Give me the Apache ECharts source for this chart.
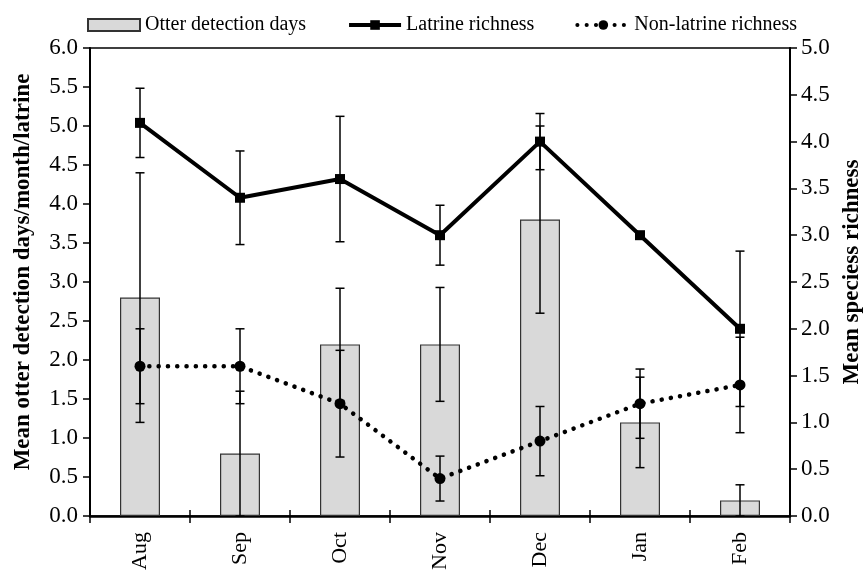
<!DOCTYPE html>
<html>
<head>
<meta charset="utf-8">
<script src="https://cdn.jsdelivr.net/npm/echarts@6/dist/echarts.min.js"></script>
<style>
html,body{margin:0;padding:0;background:#fff;}
#chart{width:865px;height:571px;}
</style>
</head>
<body>
<div id="chart"></div>
<script>
const months = ['Aug','Sep','Oct','Nov','Dec','Jan','Feb'];
const otterDays = [2.8, 0.8, 2.2, 2.2, 3.8, 1.2, 0.2];
const otterErr = [1.6, 0.8, 0.72, 0.73, 1.2, 0.58, 0.2];
const latrineRich = [4.2, 3.4, 3.6, 3.0, 4.0, 3.0, 2.0];
const latrineErr = [0.37, 0.5, 0.67, 0.32, 0.3, 0, 0.83];
const nonLatrineRich = [1.6, 1.6, 1.2, 0.4, 0.8, 1.2, 1.4];
const nonLatrineErr = [0.4, 0.4, 0.57, 0.24, 0.37, 0.37, 0.51];
const leftTicks = [0, 0.5, 1, 1.5, 2, 2.5, 3, 3.5, 4, 4.5, 5, 5.5, 6];
const rightTicks = [0, 0.5, 1, 1.5, 2, 2.5, 3, 3.5, 4, 4.5, 5];

const FONT = '"Liberation Serif", "Times New Roman", serif';

function errData(vals, errs) {
  return vals.map((v, i) => [i, v, errs[i]]);
}
function errRender(params, api) {
  const x = api.value(0), v = api.value(1), e = api.value(2);
  if (!e) return null;
  const top = api.coord([x, v + e]);
  const bot = api.coord([x, Math.max(0, v - e)]);
  const hw = 4.5;
  const st = {stroke: '#000', lineWidth: 1.5, fill: null};
  return {
    type: 'group',
    children: [
      {type: 'line', shape: {x1: top[0], y1: top[1], x2: bot[0], y2: bot[1]}, style: st},
      {type: 'line', shape: {x1: top[0]-hw, y1: top[1], x2: top[0]+hw, y2: top[1]}, style: st},
      {type: 'line', shape: {x1: bot[0]-hw, y1: bot[1], x2: bot[0]+hw, y2: bot[1]}, style: st}
    ]
  };
}

const chart = echarts.init(document.getElementById('chart'), null, {renderer: 'canvas'});
const tickLabelStyle = {color: '#000', fontFamily: FONT, fontSize: 23};
const nameStyle = {fontFamily: FONT, fontSize: 23, fontWeight: 'bold', color: '#000'};
chart.setOption({
  animation: false,
  backgroundColor: '#fff',
  textStyle: {fontFamily: FONT},
  grid: {left: 90, right: 75, top: 48, bottom: 55, outerBoundsMode: 'none', containLabel: false,
         show: true, borderColor: '#000', borderWidth: 1.5, backgroundColor: 'transparent'},
  legend: {
    left: 82, top: 10,
    itemWidth: 52, itemHeight: 12, itemGap: 41,
    textStyle: {fontFamily: FONT, fontSize: 20, color: '#000'},
    data: [
      {name: 'Otter detection days', icon: 'rect'},
      {name: 'Latrine richness', lineStyle: {width: 4}},
      {name: 'Non-latrine richness', lineStyle: {width: 4}}
    ]
  },
  xAxis: [
    {
      type: 'category',
      data: months,
      axisLine: {lineStyle: {color: '#000', width: 2.5}},
      axisTick: {show: true, length: 7, lineStyle: {color: '#000', width: 1.5}},
      axisLabel: {rotate: 90, margin: 16, color: '#000', fontFamily: FONT, fontSize: 22},
      splitLine: {show: false}
    },
    {
      type: 'category',
      data: months,
      position: 'bottom',
      axisLine: {show: false},
      axisTick: {show: true, inside: true, length: 6, lineStyle: {color: '#000', width: 1.5}},
      axisLabel: {show: false},
      splitLine: {show: false}
    }
  ],
  yAxis: [
    {
      type: 'value', min: 0, max: 6, interval: 0.5, position: 'left',
      name: 'Mean otter detection days/month/latrine',
      nameLocation: 'middle', nameRotate: 90, nameGap: 55,
      nameTextStyle: Object.assign({padding: [0, 0, 0, 20]}, nameStyle),
      axisLine: {show: true, lineStyle: {color: '#000', width: 2}},
      axisTick: {show: true, length: 7, lineStyle: {color: '#000', width: 1.5}},
      axisLabel: Object.assign({margin: 12, formatter: v => leftTicks.indexOf(v) >= 0 ? v.toFixed(1) : ''}, tickLabelStyle),
      splitLine: {show: false}
    },
    {
      type: 'value', min: 0, max: 5, interval: 0.5, position: 'right',
      name: 'Mean speciess richness',
      nameLocation: 'middle', nameRotate: 90, nameGap: 51,
      nameTextStyle: Object.assign({padding: [0, 0, 0, 20]}, nameStyle),
      axisLine: {show: true, lineStyle: {color: '#000', width: 2}},
      axisTick: {show: true, length: 7, lineStyle: {color: '#000', width: 1.5}},
      axisLabel: Object.assign({margin: 11, formatter: v => rightTicks.indexOf(v) >= 0 ? v.toFixed(1) : ''}, tickLabelStyle),
      splitLine: {show: false}
    }
  ],
  series: [
    {
      name: 'Otter detection days', type: 'bar', yAxisIndex: 0, data: otterDays,
      barWidth: 40, z: 1,
      itemStyle: {color: '#d9d9d9', borderColor: '#333', borderWidth: 1.2}
    },
    {
      type: 'custom', yAxisIndex: 0, z: 2, data: errData(otterDays, otterErr),
      encode: {x: 0, y: 1}, renderItem: errRender, silent: true
    },
    {
      name: 'Non-latrine richness', type: 'line', yAxisIndex: 1, data: nonLatrineRich, z: 3,
      symbol: 'circle', symbolSize: 11,
      itemStyle: {color: '#000'},
      lineStyle: {color: '#000', width: 4.5, type: [0.1, 9.2], cap: 'round'}
    },
    {
      type: 'custom', yAxisIndex: 1, z: 3, data: errData(nonLatrineRich, nonLatrineErr),
      encode: {x: 0, y: 1}, renderItem: errRender, silent: true
    },
    {
      name: 'Latrine richness', type: 'line', yAxisIndex: 1, data: latrineRich, z: 4,
      symbol: 'rect', symbolSize: 10,
      itemStyle: {color: '#000'},
      lineStyle: {color: '#000', width: 4}
    },
    {
      type: 'custom', yAxisIndex: 1, z: 4, data: errData(latrineRich, latrineErr),
      encode: {x: 0, y: 1}, renderItem: errRender, silent: true
    }
  ]
});
</script>
</body>
</html>
